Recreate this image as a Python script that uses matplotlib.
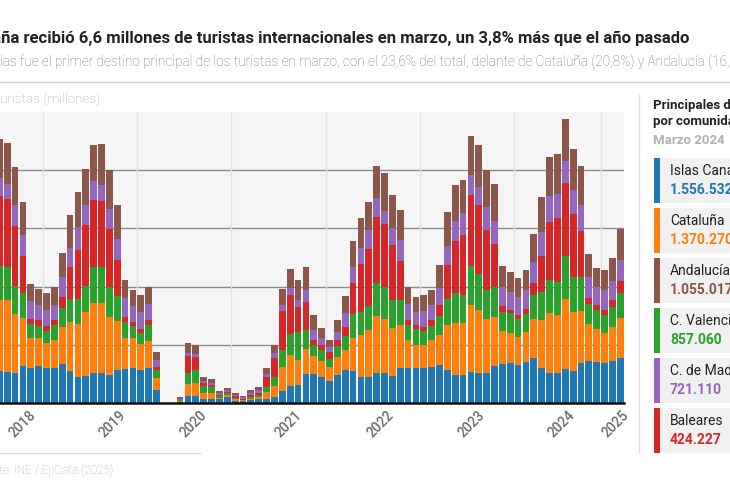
import matplotlib.pyplot as plt
import matplotlib.patches as mpatches
from matplotlib.lines import Line2D
import numpy as np

# turistas internacionales por comunidad (millones), un valor por mes, el ultimo es marzo 2025
canarias = [1.10, 1.05, 1.03, 1.27, 1.21, 1.27, 1.19, 1.19, 1.34, 1.11,
            0.90, 0.94, 1.02, 1.02, 0.96, 1.15, 1.17, 1.19, 1.13, 1.19,
            0.45, 0, 0, 0.05, 0.24, 0.25, 0.13, 0.15, 0.13, 0.19,
            0.08, 0.06, 0.10, 0.13, 0.15, 0.22, 0.41, 0.58, 0.62, 0.99,
            0.99, 0.90, 0.77, 0.96, 1.13, 1.11, 0.90, 0.90, 1.02, 1.04,
            0.94, 1.19, 1.19, 1.21, 1.21, 1.25, 1.30, 1.15, 0.96, 0.96,
            1.07, 1.04, 1.02, 1.27, 1.34, 1.36, 1.30, 1.40, 1.53, 1.21,
            1.04, 1.02, 1.17, 1.10, 1.36, 1.45, 1.42, 1.36, 1.45, 1.557]
cataluna = [2.44, 2.48, 2.02, 1.64, 1.01, 0.95, 0.86, 0.99, 1.28, 1.66,
            1.83, 2.20, 2.40, 2.40, 2.00, 1.67, 1.05, 1.03, 0.89, 0.95,
            0.42, 0, 0, 0.03, 0.41, 0.45, 0.23, 0.21, 0.05, 0.07,
            0.05, 0.03, 0.05, 0.07, 0.24, 0.38, 0.83, 1.06, 0.86, 0.85,
            0.62, 0.55, 0.45, 0.63, 0.69, 1.13, 1.43, 1.60, 1.98, 1.86,
            1.65, 1.49, 0.97, 0.80, 0.78, 0.91, 1.03, 1.54, 1.80, 1.80,
            2.31, 2.15, 1.85, 1.67, 1.14, 1.03, 0.97, 1.05, 1.34, 1.64,
            2.04, 2.02, 2.39, 2.04, 1.80, 1.25, 1.12, 1.06, 1.17, 1.370]
valenciana = [1.17, 1.14, 0.97, 0.88, 0.49, 0.42, 0.43, 0.49, 0.65, 0.82,
              0.86, 0.88, 1.24, 1.24, 1.03, 0.85, 0.55, 0.42, 0.40, 0.54,
              0.26, 0, 0, 0.02, 0.37, 0.43, 0.21, 0.18, 0.05, 0.07,
              0.05, 0.03, 0.07, 0.08, 0.17, 0.31, 0.57, 0.74, 0.97, 0.66,
              0.38, 0.37, 0.30, 0.38, 0.48, 0.81, 0.80, 0.83, 1.13, 1.09,
              0.95, 0.86, 0.51, 0.53, 0.49, 0.48, 0.66, 0.87, 1.01, 0.95,
              1.32, 1.26, 1.03, 1.03, 0.65, 0.71, 0.63, 0.61, 0.83, 0.97,
              1.14, 1.12, 1.49, 1.20, 1.18, 0.69, 0.65, 0.62, 0.69, 0.857]
baleares = [2.40, 2.34, 2.05, 1.27, 0.19, 0.21, 0.16, 0.17, 0.38, 1.09,
            1.68, 2.09, 2.33, 2.29, 2.00, 1.23, 0.19, 0.15, 0.14, 0.17,
            0.11, 0, 0, 0.02, 0.59, 0.46, 0.11, 0.08, 0.05, 0.06,
            0.05, 0.02, 0.05, 0.08, 0.34, 0.63, 1.34, 1.32, 0.86, 0.97,
            0.17, 0.17, 0.22, 0.19, 0.32, 1.07, 1.64, 1.97, 2.26, 2.17,
            1.89, 1.35, 0.17, 0.14, 0.14, 0.21, 0.37, 1.19, 1.81, 2.06,
            2.44, 2.34, 2.04, 1.48, 0.19, 0.11, 0.14, 0.17, 0.43, 1.23,
            2.00, 2.20, 2.52, 2.14, 1.58, 0.23, 0.17, 0.17, 0.23, 0.424]
madrid = [0.61, 0.51, 0.72, 0.73, 0.61, 0.51, 0.57, 0.54, 0.69, 0.66,
          0.78, 0.71, 0.64, 0.54, 0.69, 0.74, 0.65, 0.54, 0.57, 0.54,
          0.25, 0, 0, 0.02, 0.11, 0.08, 0.09, 0.06, 0.05, 0.06,
          0.05, 0.05, 0.07, 0.09, 0.11, 0.17, 0.21, 0.25, 0.23, 0.40,
          0.34, 0.25, 0.18, 0.29, 0.46, 0.55, 0.57, 0.63, 0.65, 0.43,
          0.59, 0.71, 0.55, 0.46, 0.54, 0.51, 0.59, 0.66, 0.69, 0.77,
          0.69, 0.63, 0.80, 0.81, 0.66, 0.61, 0.61, 0.65, 0.71, 0.82,
          0.88, 0.83, 0.75, 0.83, 0.88, 0.72, 0.63, 0.66, 0.66, 0.721]
andalucia = [1.34, 1.40, 1.32, 1.12, 0.59, 0.55, 0.57, 0.61, 0.83, 1.11,
             1.20, 1.23, 1.25, 1.40, 1.34, 1.18, 0.61, 0.55, 0.59, 0.61,
             0.26, 0, 0, 0.05, 0.34, 0.34, 0.14, 0.14, 0.08, 0.08,
             0.07, 0.05, 0.09, 0.11, 0.19, 0.29, 0.57, 0.66, 0.69, 0.80,
             0.51, 0.34, 0.25, 0.40, 0.61, 0.91, 1.03, 0.99, 1.10, 1.30,
             1.12, 1.03, 0.59, 0.51, 0.55, 0.51, 0.80, 1.14, 1.22, 1.12,
             1.34, 1.45, 1.28, 1.26, 0.74, 0.69, 0.66, 0.69, 0.97, 1.20,
             1.35, 1.37, 1.45, 1.43, 1.35, 0.77, 0.66, 0.71, 0.77, 1.055]

anios = ['2018', '2019', '2020', '2021', '2022', '2023', '2024', '2025']
comunidades = ['Islas Canarias', 'Cataluña', 'Andalucía', 'C. Valenciana', 'C. de Madrid', 'Baleares']
valores_marzo = ['1.556.532', '1.370.270', '1.055.017', '857.060', '721.110', '424.227']

azul, naranja, verde, rojo, morado, marron = '#1f77b4', '#ff7f0e', '#2ca02c', '#d62728', '#9467bd', '#8c564b'

plt.rcParams['font.family'] = ['Roboto', 'DejaVu Sans']

W, H = 730, 500
fig = plt.figure(figsize=(W / 100, H / 100), dpi=100)
renderer = fig.canvas.get_renderer()


def fx(px):
    return px / W


def fy(py):
    return 1 - py / H


def texto_cortado(prefijo, texto, x_px, y_px, **kw):
    # el grafico original esta recortado: se coloca el texto para que el prefijo quede fuera
    t = fig.text(0, 0, prefijo, **kw)
    w = t.get_window_extent(renderer).width
    t.remove()
    fig.text(fx(x_px - w), fy(y_px), texto, va='center', **kw)


# ---------- cabecera ---------- #
texto_cortado('Espa', 'España recibió 6,6 millones de turistas internacionales en marzo, un 3,8% más que el año pasado',
              1, 38, fontsize=11.95, fontweight='bold', color='#222222')
texto_cortado('Islas Canar', 'Islas Canarias fue el primer destino principal de los turistas en marzo, con el 23,6% '
              'del total, delante de Cataluña (20,8%) y Andalucía (16,0%)',
              0, 62, fontsize=9.85, fontweight='light', color='#777777')
fig.add_artist(Line2D([0, 1], [fy(82), fy(82)], color='#cccccc', lw=1))
texto_cortado('T', 'Turistas (millones)', 0, 99, fontsize=9.7, fontweight='light', color='#aaaaaa')

# ---------- barras ---------- #
ax = fig.add_axes([fx(-5.4), fy(403), 629.4 / W, 291 / H])
ax.set_facecolor('#f5f5f5')

x = np.arange(len(canarias))
base = np.zeros(len(canarias))
for serie, color in [(canarias, azul), (cataluna, naranja), (valenciana, verde),
                     (baleares, rojo), (madrid, morado), (andalucia, marron)]:
    ax.bar(x, serie, 0.86, bottom=base, color=color, linewidth=0, zorder=3)
    base = base + np.array(serie)

for xv in [5.5, 17.5, 29.5, 41.5, 53.5, 65.5, 76.5]:
    ax.axvline(xv, color='#e2e2e2', lw=1, zorder=1)

ax.set_xlim(-0.6, 79.47)
ax.set_ylim(0, 10)
ax.set_yticks([2, 4, 6, 8])
ax.yaxis.grid(True, color='#8c8c8c', lw=1)
ax.set_axisbelow(True)
ax.tick_params(axis='y', length=0, labelleft=False)

ax.set_xticks([3.78, 15.2, 25.5, 37.6, 49.3, 60.9, 72.3, 79.2])
ax.set_xticklabels(anios)
ax.tick_params(axis='x', length=0, pad=4, labelsize=9.8, labelcolor='#6a6a6a')
plt.setp(ax.get_xticklabels(), rotation=45, ha='right', va='top', rotation_mode='anchor', fontweight='medium')

for s in ['top', 'right', 'left']:
    ax.spines[s].set_visible(False)
ax.spines['bottom'].set_color('#111111')
ax.spines['bottom'].set_linewidth(1.8)
ax.spines['bottom'].set_zorder(4)

# ---------- pie ---------- #
fig.add_artist(Line2D([0, fx(200)], [fy(453), fy(453)], color='#dddddd', lw=1))
texto_cortado('Fuen', 'Fuente: INE / EpData (2025)', -1, 470, fontsize=8.4, fontweight='light', color='#b5b5b5')

# ---------- panel derecho ---------- #
fig.add_artist(Line2D([fx(639), fx(639)], [fy(95), fy(452)], color='#dddddd', lw=1))
fig.text(fx(653), fy(105), 'Principales destinos', fontsize=9.5, fontweight='bold', color='#222222', va='center')
fig.text(fx(653), fy(121), 'por comunidades', fontsize=9.5, fontweight='bold', color='#222222', va='center')
fig.text(fx(653), fy(140), 'Marzo 2024', fontsize=9.5, fontweight='bold', color='#b0b0b0', va='center')

colores_leyenda = [azul, naranja, marron, verde, morado, rojo]
for k, (nombre, valor, color) in enumerate(zip(comunidades, valores_marzo, colores_leyenda)):
    top = 158 + 50 * k
    fig.add_artist(mpatches.Rectangle((fx(654), fy(top + 45)), fx(90), 45 / H,
                                      facecolor='#f1f1f1', edgecolor='none'))
    fig.add_artist(mpatches.Rectangle((fx(654), fy(top + 45)), 5.5 / W, 45 / H,
                                      facecolor=color, edgecolor='none'))
    fig.text(fx(670), fy(top + 13), nombre, fontsize=10, color='#222222', va='center')
    fig.text(fx(670), fy(top + 32), valor, fontsize=10, fontweight='bold', color=color, va='center')

fig.savefig('out.png', dpi=100)
